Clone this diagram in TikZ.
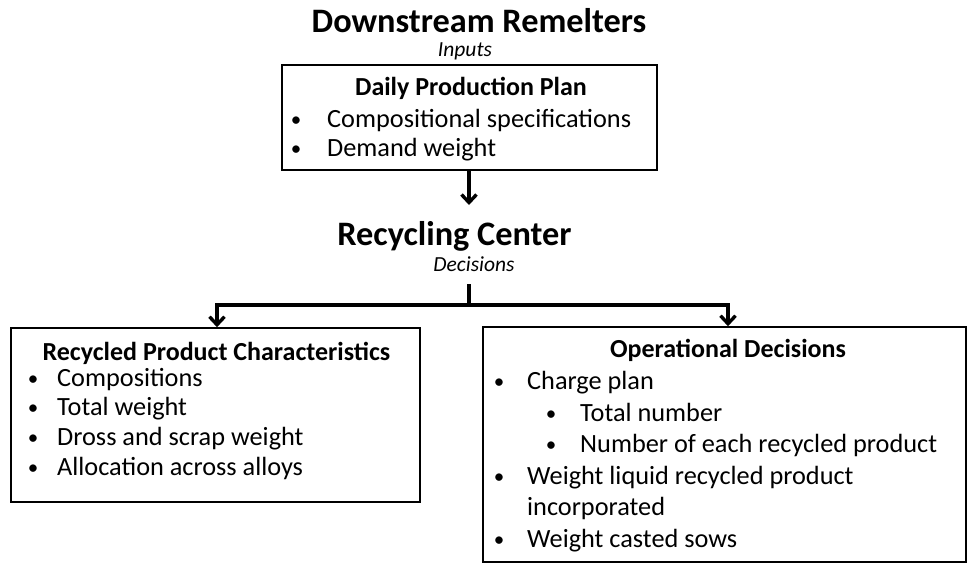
\documentclass[tikz,border=0pt]{standalone}
\usepackage{fontspec}
\setmainfont{Carlito}
\usetikzlibrary{arrows.meta}
\begin{document}
\begin{tikzpicture}[x=1pt,y=-1pt,
 box/.style={draw=black, line width=1.6pt, rectangle, inner sep=0pt},
 conn/.style={line width=3.2pt},
 arr/.style={conn, -{Straight Barb[length=8pt,width=15pt,line width=3.4pt]}},
 heading/.style={font=\fontsize{34.3}{40}\selectfont\bfseries, anchor=base, inner sep=0pt},
 sublabel/.style={font=\fontsize{21.5}{25}\selectfont\itshape, anchor=base, inner sep=0pt},
 boxtitle/.style={font=\fontsize{26}{30}\selectfont\bfseries, anchor=base, inner sep=0pt},
 item/.style={font=\fontsize{26.3}{30}\selectfont, anchor=base west, inner sep=0pt},
 bul/.style={font=\fontsize{21}{26}\selectfont, anchor=base, inner sep=0pt},
]
\useasboundingbox (0,0) rectangle (968,563);

% headings
\node[heading] (dr) at (479,32) {Downstream Remelters};
\node[sublabel] (inp) at (465,56) {Inputs};
\node[heading] (rc) at (454.5,245) {Recycling Center};
\node[sublabel] (dec) at (474,271) {Decisions};

% boxes
\node[box, minimum width=375pt, minimum height=105pt] (topbox) at (469.5,117.5) {};
\node[box, minimum width=409pt, minimum height=174pt] (leftbox) at (215.5,415) {};
\node[box, minimum width=483pt, minimum height=235pt] (rightbox) at (724.5,444.5) {};

% top box text
\node[boxtitle] (t0) at (471,95) {Daily Production Plan};
\node[bul] (tb1) at (296,126) {\textbullet};
\node[item] (t1) at (327,127) {Compositional specifications};
\node[bul] (tb2) at (296,155) {\textbullet};
\node[item] (t2) at (327,156) {Demand weight};

% left box text
\node[boxtitle] (l0) at (216.5,360) {Recycled Product Characteristics};
\node[bul] (lb1) at (33,385) {\textbullet};
\node[item] (l1) at (57,386) {Compositions};
\node[bul] (lb2) at (33,414) {\textbullet};
\node[item] (l2) at (57,415) {Total weight};
\node[bul] (lb3) at (33,444) {\textbullet};
\node[item] (l3) at (57,445) {Dross and scrap weight};
\node[bul] (lb4) at (33,474) {\textbullet};
\node[item] (l4) at (57,475) {Allocation across alloys};

% right box text
\node[boxtitle] (r0) at (728,357) {Operational Decisions};
\node[bul] (rb1) at (499,388) {\textbullet};
\node[item] (r1) at (527,389) {Charge plan};
\node[bul] (rb2) at (551,420) {\textbullet};
\node[item] (r2) at (580,421) {Total number};
\node[bul] (rb3) at (551,451) {\textbullet};
\node[item] (r3) at (580,452) {Number of each recycled product};
\node[bul] (rb4) at (499,483) {\textbullet};
\node[item] (r4) at (527,484) {Weight liquid recycled product};
\node[item] (r5) at (527,515) {incorporated};
\node[bul] (rb6) at (499,546) {\textbullet};
\node[item] (r6) at (527,547) {Weight casted sows};

% connectors
\coordinate (topend) at (469,205);
\coordinate (stub) at (469,284);
\coordinate (fork) at (469,305);
\draw[arr] (topbox.south -| topend) -- (topend);
\draw[conn] (stub) -- (fork);
\draw[arr] (fork) -| ([xshift=1.5pt]leftbox.north);
\draw[arr] (fork) -| ([xshift=3.5pt]rightbox.north);
\end{tikzpicture}
\end{document}
